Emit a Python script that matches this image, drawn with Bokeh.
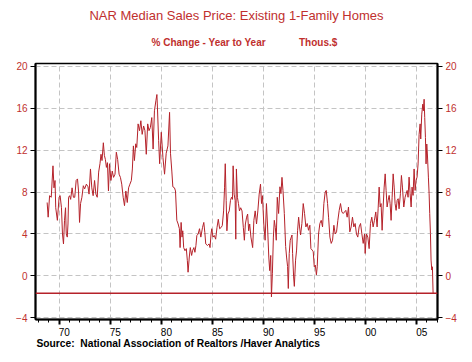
from bokeh.plotting import figure
from bokeh.models import (Range1d, LinearAxis, FixedTicker, SingleIntervalTicker, Span,
                          Title, CustomJSTickFormatter)
from bokeh.embed import file_html
from bokeh.resources import INLINE

# ---- data ----
years = [
    1968.83, 1968.93, 1969.07, 1969.23, 1969.40, 1969.50, 1969.60, 1969.67, 1969.83,
    1970.00, 1970.10, 1970.23, 1970.33, 1970.43, 1970.53, 1970.63, 1970.70, 1970.80, 1970.87, 1970.93,
    1971.03, 1971.13, 1971.27, 1971.40, 1971.53, 1971.67, 1971.80, 1971.90,
    1972.00, 1972.10, 1972.23, 1972.37, 1972.50, 1972.67, 1972.83, 1972.93,
    1973.07, 1973.20, 1973.33, 1973.47, 1973.60, 1973.73, 1973.87,
    1974.00, 1974.10, 1974.20, 1974.33, 1974.43, 1974.53, 1974.63, 1974.73, 1974.83, 1974.93,
    1975.07, 1975.20, 1975.33, 1975.47, 1975.60, 1975.73, 1975.87,
    1976.00, 1976.13, 1976.27, 1976.40, 1976.53, 1976.67, 1976.80, 1976.93,
    1977.07, 1977.17, 1977.27, 1977.37, 1977.50, 1977.60, 1977.73, 1977.87,
    1978.00, 1978.13, 1978.27, 1978.40, 1978.53, 1978.67, 1978.80, 1978.93,
    1979.07, 1979.20, 1979.33, 1979.47, 1979.57, 1979.61, 1979.74, 1979.84,
    1980.00, 1980.16, 1980.32, 1980.48, 1980.65, 1980.81, 1980.90,
    1981.03, 1981.13, 1981.29, 1981.39, 1981.52, 1981.65, 1981.77, 1981.84, 1981.94,
    1982.03, 1982.10, 1982.19, 1982.32, 1982.45, 1982.55, 1982.62, 1982.74, 1982.84, 1982.97,
    1983.06, 1983.19, 1983.29, 1983.39, 1983.48, 1983.61, 1983.74, 1983.87,
    1984.03, 1984.16, 1984.26, 1984.35, 1984.52, 1984.68, 1984.77, 1984.87, 1984.94,
    1985.06, 1985.19, 1985.32, 1985.45, 1985.58, 1985.71, 1985.84, 1985.97,
    1986.10, 1986.19, 1986.26, 1986.35, 1986.42, 1986.52, 1986.65, 1986.77, 1986.87, 1986.97,
    1987.03, 1987.13, 1987.23, 1987.29, 1987.35, 1987.45, 1987.55, 1987.65, 1987.77, 1987.90,
    1988.03, 1988.13, 1988.23, 1988.35, 1988.45, 1988.55, 1988.65, 1988.77, 1988.94,
    1989.06, 1989.19, 1989.32, 1989.45, 1989.58, 1989.71, 1989.81, 1989.90,
    1990.03, 1990.16, 1990.29, 1990.39, 1990.52, 1990.61, 1990.71, 1990.78, 1990.87, 1990.97,
    1991.06, 1991.16, 1991.25, 1991.35, 1991.48, 1991.61, 1991.71, 1991.81, 1991.91,
    1992.04, 1992.17, 1992.26, 1992.36, 1992.43, 1992.52, 1992.62, 1992.72, 1992.79, 1992.85, 1992.95,
    1993.02, 1993.14, 1993.24, 1993.34, 1993.44, 1993.53, 1993.63, 1993.76, 1993.89,
    1994.02, 1994.15, 1994.28, 1994.41, 1994.54, 1994.64, 1994.77, 1994.87, 1994.97,
    1995.07, 1995.18, 1995.26, 1995.39, 1995.52, 1995.65, 1995.78, 1995.91,
    1996.04, 1996.14, 1996.27, 1996.37, 1996.50, 1996.63, 1996.76, 1996.89,
    1997.02, 1997.15, 1997.28, 1997.41, 1997.54, 1997.67, 1997.80, 1997.93,
    1998.06, 1998.19, 1998.32, 1998.45, 1998.58, 1998.71, 1998.84, 1998.97,
    1999.10, 1999.23, 1999.36, 1999.50, 1999.63, 1999.76, 1999.89, 1999.95,
    2000.08, 2000.21, 2000.34, 2000.47, 2000.60, 2000.73, 2000.86, 2000.99,
    2001.12, 2001.22, 2001.32, 2001.42, 2001.51, 2001.61, 2001.71, 2001.81, 2001.91,
    2002.00, 2002.10, 2002.20, 2002.30, 2002.39, 2002.49, 2002.59, 2002.69, 2002.79, 2002.88, 2002.98,
    2003.08, 2003.18, 2003.27, 2003.40, 2003.50, 2003.60, 2003.73, 2003.86, 2003.96,
    2004.06, 2004.15, 2004.25, 2004.35, 2004.45, 2004.54, 2004.64, 2004.74, 2004.84, 2004.93,
    2005.03, 2005.13, 2005.23, 2005.33, 2005.39, 2005.49, 2005.59, 2005.65, 2005.72, 2005.78, 2005.85, 2005.91, 2005.98,
    2006.04, 2006.14, 2006.21, 2006.27, 2006.34, 2006.40, 2006.47, 2006.53, 2006.60,
]
pct_change = [
    7.0, 5.6, 7.65, 7.5, 10.5, 8.4, 9.1, 6.5, 5.3,
    7.5, 7.65, 6.5, 4.0, 3.05, 5.3, 6.5, 4.0, 3.7, 4.95, 7.5,
    7.65, 7.3, 8.4, 7.5, 7.5, 9.1, 9.25, 8.1,
    5.1, 6.9, 7.5, 8.6, 8.3, 8.75, 8.5, 7.8,
    10.2, 8.4, 7.65, 9.1, 7.8, 7.5, 9.9,
    10.7, 11.6, 11.0, 12.7, 11.5, 11.1, 10.35, 10.8, 8.1, 10.7,
    9.1, 10.0, 9.4, 9.7, 11.8, 11.1, 9.7,
    9.4, 8.75, 7.5, 6.7, 8.1, 7.0, 8.4, 8.75,
    9.1, 10.2, 12.4, 11.0, 12.6, 12.25, 14.5, 13.85,
    14.8, 13.5, 14.3, 13.85, 11.6, 14.5, 13.85, 14.15,
    15.1, 12.1, 15.75, 16.7, 17.3, 16.4, 12.9, 10.7,
    13.7, 11.3, 9.7, 11.7, 12.4, 15.6, 11.7,
    10.0, 8.5, 8.4, 8.1, 5.3, 4.95, 4.5, 2.7, 5.1,
    3.7, 4.3, 2.7, 2.4, 2.6, 1.45, 0.35, 1.8, 2.7, 1.95,
    2.4, 2.7, 2.25, 2.9, 3.85, 4.0, 4.5, 3.7,
    4.6, 5.1, 4.15, 3.05, 2.9, 3.05, 2.7, 4.0, 4.5,
    3.7, 3.85, 3.5, 4.6, 5.4, 4.5, 4.6, 4.8,
    6.2, 8.4, 10.7, 7.2, 4.3, 5.9, 6.2, 7.2, 7.5, 7.3,
    10.5, 7.8, 7.2, 3.5, 10.2, 7.5, 6.9, 6.2, 6.5, 6.2,
    4.6, 3.4, 4.95, 5.6, 5.9, 4.3, 4.95, 3.7, 2.7,
    5.3, 6.2, 4.95, 6.2, 7.8, 8.75, 6.9, 7.65,
    4.95, 3.4, 6.9, 4.95, 1.8, 0.5, 1.95, -2.0, 0.2, 3.7,
    5.3, 4.6, 3.4, 7.5, 5.95, 8.5, 7.85, 9.4, 8.15,
    5.95, 2.8, 1.8, 0.9, -1.2, 2.14, 3.4, 3.7, 3.9, 2.14, -0.1,
    -1.0, 1.5, 2.46, 4.35, 5.6, 4.67, 3.9, 5.0, 6.9,
    5.95, 4.67, 5.0, 4.35, 4.83, 2.6, 2.46, 2.3, 0.87,
    1.03, 0.1, 0.87, 4.0, 5.0, 5.3, 4.67, 6.9,
    8.0, 8.15, 6.9, 5.6, 3.7, 3.1, 3.4, 4.83,
    4.0, 4.2, 5.3, 6.25, 6.9, 6.1, 5.95, 6.1,
    6.25, 5.6, 6.57, 4.2, 4.67, 5.6, 4.67, 5.0,
    4.0, 3.7, 4.67, 5.0, 4.0, 3.1, 4.0, 2.14,
    4.0, 3.7, 2.6, 5.0, 5.6, 4.67, 5.3, 6.1,
    4.67, 6.4, 8.47, 6.57, 6.9, 4.35, 6.57, 8.47, 9.73,
    8.15, 6.57, 7.2, 7.68, 6.9, 5.3, 7.5, 9.73, 8.47, 6.9, 6.25,
    7.2, 7.36, 6.4, 7.84, 9.58, 8.47, 6.57, 7.5, 7.84,
    8.15, 7.5, 9.42, 7.84, 6.57, 8.47, 7.68, 10.2, 8.15, 9.1,
    9.42, 10.68, 13.5, 14.5, 13.06, 15.43, 16.38, 15.75, 16.85, 15.1, 13.2, 10.68, 12.58,
    11.63, 9.42, 7.84, 5.94, 4.04, 1.51, 0.56, 0.87, -1.66,
]
x_tick_years = [1970, 1975, 1980, 1985, 1990, 1995, 2000, 2005]
x_tick_labels = ["70", "75", "80", "85", "90", "95", "00", "05"]
y_ticks = [-4, 0, 4, 8, 12, 16, 20]
title_text = "NAR Median Sales Price: Existing 1-Family Homes"
subtitle_text = "% Change - Year to Year" + "\u00a0" * 12 + "Thous.$"
source_text = "Source:\u00a0 National Association of Realtors /Haver Analytics"

RED_TEXT = "#C0302E"
LINE_RED = "#B5222A"
FONT = "Liberation Sans"

p = figure(width=464, height=354, output_backend="svg", toolbar_location=None,
           title=None,
           x_range=Range1d(1967.69, 2007.03), y_range=Range1d(-4.16, 20.26),
           min_border_left=35, min_border_right=27, min_border_top=63, min_border_bottom=35)
p.background_fill_color = "white"
p.border_fill_color = "white"
p.outline_line_color = "black"
p.outline_line_width = 1.5

# grids
p.xgrid.ticker = SingleIntervalTicker(interval=5)
p.ygrid.ticker = FixedTicker(ticks=y_ticks)
for g in (p.xgrid[0], p.ygrid[0]):
    g.grid_line_color = "#C4C4C4"
    g.grid_line_dash = "5 3"
    g.grid_line_width = 1

# y axes (left + right)
right_axis = LinearAxis()
p.add_layout(right_axis, "right")
for ax in (p.yaxis[0], right_axis):
    ax.ticker = FixedTicker(ticks=y_ticks)
    ax.major_tick_in = 0
    ax.major_tick_out = 5
    ax.minor_tick_in = 0
    ax.minor_tick_out = 0
    ax.major_tick_line_color = "black"
    ax.axis_line_color = "black"
    ax.axis_line_width = 2
    ax.major_label_text_color = RED_TEXT
    ax.major_label_text_font = FONT
    ax.major_label_text_font_size = "10px"
    ax.major_label_standoff = 3

# x axis: ticks only (labels not drawn)
xa = p.xaxis[0]
xa.ticker = SingleIntervalTicker(interval=5, num_minor_ticks=5)
xa.axis_line_color = "black"
xa.axis_line_width = 2
xa.major_tick_in = 0
xa.major_tick_out = 5
xa.major_tick_line_width = 2
xa.major_tick_line_color = "black"
xa.minor_tick_in = 0
xa.minor_tick_out = 3
xa.minor_tick_line_color = "black"
xa.major_label_text_color = None
xa.major_label_text_font_size = "1px"
xa.major_label_standoff = 0

# x axis: labels centred mid-year
label_axis = LinearAxis(
    ticker=FixedTicker(ticks=[y + 0.5 for y in x_tick_years]),
    formatter=CustomJSTickFormatter(
        args=dict(years=x_tick_years, labels=x_tick_labels),
        code="const i = years.indexOf(Math.round(tick - 0.5)); return i >= 0 ? labels[i] : '';"),
)
label_axis.axis_line_color = None
label_axis.major_tick_line_color = None
label_axis.minor_tick_line_color = None
label_axis.major_tick_in = 0
label_axis.major_tick_out = 0
label_axis.major_label_standoff = 3
label_axis.major_label_text_font = FONT
label_axis.major_label_text_font_size = "10px"
label_axis.major_label_text_color = "black"
p.add_layout(label_axis, "below")

# series
p.line(years, pct_change, line_color=LINE_RED, line_width=1)
p.add_layout(Span(location=pct_change[-1], dimension="width",
                  line_color=LINE_RED, line_width=1.5))

# titles (closest to plot first)
p.add_layout(Title(text=subtitle_text, align="left", offset=116, standoff=28,
                   vertical_align="top",
                   text_font=FONT, text_font_size="10px", text_font_style="bold",
                   text_color=RED_TEXT), "above")
p.add_layout(Title(text=title_text, align="center", standoff=0,
                   text_font=FONT, text_font_size="13px", text_font_style="normal",
                   text_color=RED_TEXT), "above")
p.add_layout(Title(text=source_text, align="left", offset=1, standoff=-5,
                   text_font=FONT, text_font_size="10.25px", text_font_style="bold",
                   text_color="black"), "below")

open("out.html", "w").write(file_html(p, INLINE))
